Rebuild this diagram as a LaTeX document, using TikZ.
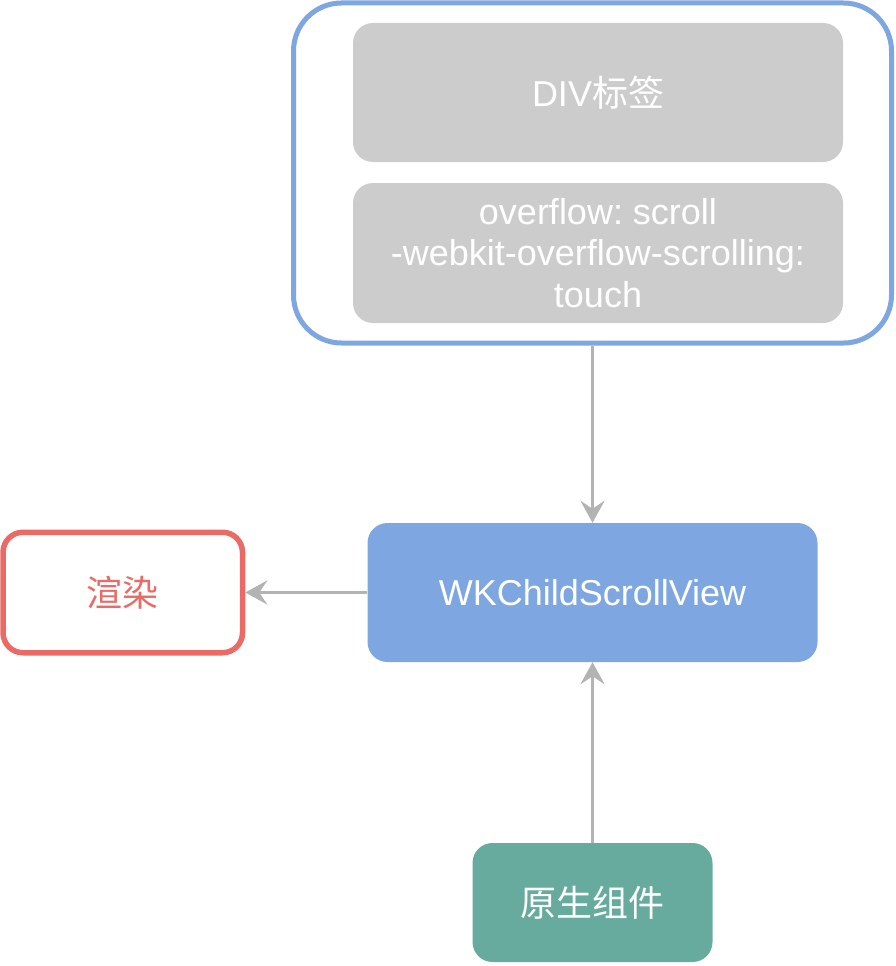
\documentclass[tikz,border=0pt]{standalone}
\usepackage{fontspec}
\setmainfont{Liberation Sans}
\newfontfamily\cjk{Noto Sans CJK SC}
\usetikzlibrary{arrows.meta}
\definecolor{bblue}{HTML}{7EA6E0}
\definecolor{bgray}{HTML}{CCCCCC}
\definecolor{bred}{HTML}{EA6B66}
\definecolor{bgreen}{HTML}{67AB9F}
\definecolor{agray}{HTML}{B3B3B3}
\frenchspacing
\begin{document}
\begin{tikzpicture}[x=1pt,y=-1pt,
  box/.style={rectangle, rounded corners=20pt, inner sep=0pt, align=center,
    font=\fontsize{36}{41.5}\selectfont},
  graybox/.style={box, fill=bgray, text=white, minimum width=490pt},
  conn/.style={draw=agray, line width=3.5pt,
    -{Stealth[length=22pt,width=24pt,inset=8pt]}}]
\useasboundingbox (0,0) rectangle (896,966);
\node[rectangle, rounded corners=48pt, draw=bblue, line width=5pt, minimum width=598pt, minimum height=340pt] (outer) at (592.5,173) {};
\node[graybox, minimum height=139pt] (div) at (598,92.5) {DIV{\cjk 标签}};
\node[graybox, minimum height=140pt] (ovf) at (598,253) {overflow: scroll\\ -webkit-overflow-scrolling:\\touch};
\node[box, fill=bblue, text=white, minimum width=450pt, minimum height=139pt] (wk) at (592.5,592.5) {WKChildScrollView};
\node[box, draw=bred, line width=5.5pt, text=bred, minimum width=239.5pt, minimum height=120.5pt] (render) at (122.75,592.5) {\cjk 渲染};
\node[box, fill=bgreen, text=white, minimum width=240pt, minimum height=119pt] (native) at (592.5,902.5) {\cjk 原生组件};
\draw[conn] (outer.south) -- (wk.north);
\draw[conn] (wk.west) -- (render.east);
\draw[conn] (native.north) -- (wk.south);
\end{tikzpicture}
\end{document}
